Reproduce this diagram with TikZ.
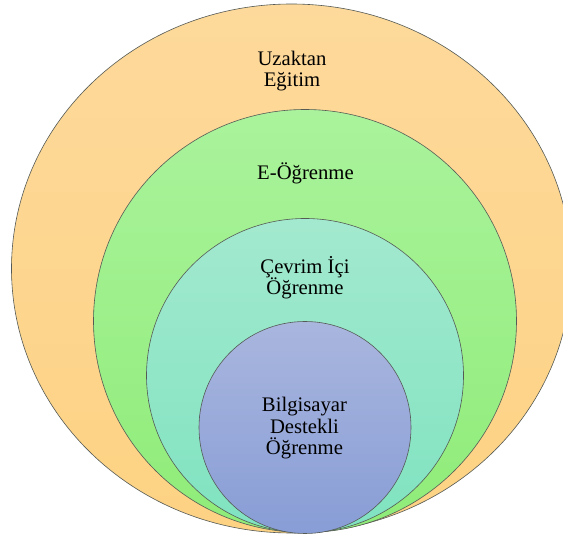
\documentclass[tikz,border=0pt]{standalone}
\usepackage{fontspec}
\setmainfont{Liberation Serif}
\newfontfamily\timesfam{Liberation Serif}
\usetikzlibrary{shapes.geometric}
\definecolor{orTop}{HTML}{FDD99B}
\definecolor{orBot}{HTML}{FDD283}
\definecolor{grTop}{HTML}{AAF39C}
\definecolor{grBot}{HTML}{8FEC78}
\definecolor{tlTop}{HTML}{A3E9CF}
\definecolor{tlBot}{HTML}{7FE3C0}
\definecolor{blTop}{HTML}{A9B6DE}
\definecolor{blBot}{HTML}{889DD6}
\definecolor{rim}{HTML}{555A55}
\begin{document}
\begin{tikzpicture}[x=1pt,y=-1pt,
  ring/.style={ellipse, draw=rim, line width=0.6pt, inner sep=0pt, outer sep=0pt},
  lbl/.style={align=center, font=\timesfam\fontsize{20.7}{21.5}\selectfont, text=black, inner sep=0pt, anchor=base}]
\useasboundingbox (0,0) rectangle (563,537);
\node[ring, minimum width=560pt, minimum height=529pt, top color=orTop, bottom color=orBot] (outer) at (291.5,268.5) {};
\node[ring, minimum width=423pt, minimum height=423pt, top color=grTop, bottom color=grBot] (green) at (305,321) {};
\node[ring, minimum width=317pt, minimum height=314pt, top color=tlTop, bottom color=tlBot] (teal) at (305,375.5) {};
\node[ring, minimum width=212pt, minimum height=212pt, top color=blTop, bottom color=blBot] (blue) at (305,427.5) {};
\node[lbl] (t1) at (292,87) {Uzaktan\\Eğitim};
\node[lbl] (t2) at (305.5,179.3) {E-Öğrenme};
\node[lbl] (t3) at (305,295) {Çevrim İçi\\Öğrenme};
\node[lbl] (t4) at (304.5,455) {Bilgisayar\\Destekli\\Öğrenme};
\end{tikzpicture}
\end{document}
